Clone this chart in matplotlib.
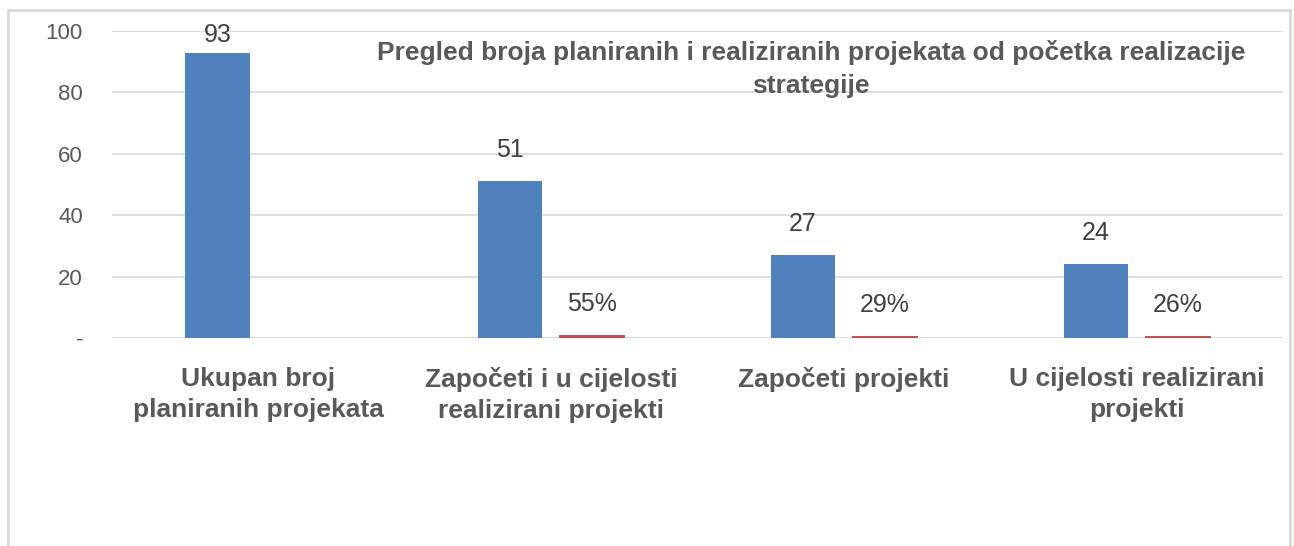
import matplotlib.pyplot as plt
import numpy as np
from matplotlib.patches import Rectangle

plt.rcParams['font.family'] = ['Liberation Sans', 'DejaVu Sans']

categories = ['Ukupan broj\nplaniranih projekata',
              'Započeti i u cijelosti\nrealizirani projekti',
              'Započeti projekti',
              'U cijelosti realizirani\nprojekti']
counts = [93, 51, 27, 24]
shares = [None, 0.55, 0.29, 0.26]
title = 'Pregled broja planiranih i realiziranih projekata od početka realizacije\nstrategije'

blue = '#4F81BD'
red = '#C0504D'
gray = '#595959'

fig = plt.figure(figsize=(12.94, 5.46), dpi=100)
ax = fig.add_axes([0.0866, 0.381, 0.905, 0.562])

x = np.arange(len(categories))
w = 0.22
off = 0.14
ax.bar(x - off, counts, w, color=blue, zorder=3)
for i, s in enumerate(shares):
    if s is None:
        continue
    ax.bar(x[i] + off, s, w, color=red, edgecolor=red, linewidth=1.4, zorder=3)
    ax.annotate(f'{s * 100:.0f}%', (x[i] + off, s + 10.4), ha='center', va='center',
                fontsize=18, color='#404040')
for i, c in enumerate(counts):
    ax.annotate(str(c), (x[i] - off, min(c + 10.2, 98.6)), ha='center', va='center',
                fontsize=18, color='#404040')

ax.set_ylim(0, 100)
ax.set_xlim(-0.5, len(categories) - 0.5)
ax.set_yticks([0, 20, 40, 60, 80, 100])
ax.set_yticklabels(['-', '20', '40', '60', '80', '100'])
ax.yaxis.grid(True, color='#D9D9D9', linewidth=1.2, zorder=0)
ax.set_axisbelow(True)
ax.tick_params(axis='y', length=0, pad=21, labelsize=16, labelcolor=gray)
ax.set_xticks(x)
ax.set_xticklabels(categories, fontsize=19, fontweight='bold', color=gray, linespacing=1.35)
ax.tick_params(axis='x', length=0, pad=21)
for sp in ax.spines.values():
    sp.set_visible(False)

ax.text(0.597, 0.876, title, transform=ax.transAxes, ha='center', va='center',
        fontsize=19, fontweight='bold', color=gray, linespacing=1.45)

fig.patches.append(Rectangle((8 / 1294, -0.1), 1282 / 1294, 1.1 - 10 / 546,
                             transform=fig.transFigure, fill=False,
                             edgecolor='#D9D9D9', linewidth=2))

fig.savefig('out.png', dpi=100)
